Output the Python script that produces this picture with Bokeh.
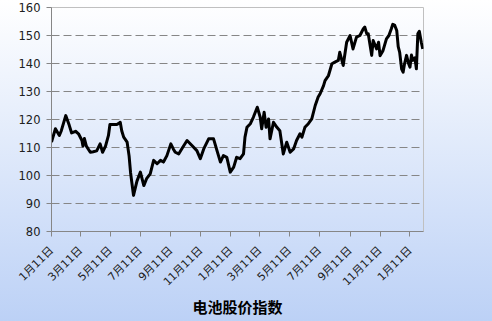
import pandas as pd
from bokeh.plotting import figure
from bokeh.models import Range1d, FixedTicker, ColumnDataSource
from bokeh.embed import file_html
from bokeh.resources import INLINE

dates = [
    "2009-01-11", "2009-01-19", "2009-01-27", "2009-01-31", "2009-02-09", "2009-02-16",
    "2009-02-21", "2009-02-25", "2009-03-01", "2009-03-07", "2009-03-14", "2009-03-16",
    "2009-03-19", "2009-03-23", "2009-03-31", "2009-04-06", "2009-04-13", "2009-04-20",
    "2009-04-25", "2009-05-01", "2009-05-07", "2009-05-10", "2009-05-17", "2009-05-24",
    "2009-05-28", "2009-05-31", "2009-06-03", "2009-06-07", "2009-06-14", "2009-06-18",
    "2009-06-21", "2009-06-27", "2009-07-04", "2009-07-11", "2009-07-18", "2009-07-24",
    "2009-07-31", "2009-08-07", "2009-08-14", "2009-08-21", "2009-08-27", "2009-09-03",
    "2009-09-11", "2009-09-16", "2009-09-20", "2009-09-27", "2009-10-05", "2009-10-14",
    "2009-10-24", "2009-11-03", "2009-11-10", "2009-11-17", "2009-11-27", "2009-12-07",
    "2009-12-14", "2009-12-21", "2009-12-27", "2010-01-03", "2010-01-10", "2010-01-17",
    "2010-01-23", "2010-01-30", "2010-02-06", "2010-02-09", "2010-02-13", "2010-02-20",
    "2010-02-26", "2010-03-06", "2010-03-12", "2010-03-15", "2010-03-20", "2010-03-24",
    "2010-03-29", "2010-04-01", "2010-04-08", "2010-04-15", "2010-04-21", "2010-04-28",
    "2010-05-05", "2010-05-12", "2010-05-19", "2010-05-25", "2010-06-01", "2010-06-05",
    "2010-06-11", "2010-06-18", "2010-06-25", "2010-07-02", "2010-07-08", "2010-07-12",
    "2010-07-19", "2010-07-22", "2010-07-29", "2010-08-05", "2010-08-11", "2010-08-18",
    "2010-08-21", "2010-08-28", "2010-09-04", "2010-09-11", "2010-09-17", "2010-09-24",
    "2010-10-01", "2010-10-08", "2010-10-11", "2010-10-15", "2010-10-18", "2010-10-25",
    "2010-10-28", "2010-11-04", "2010-11-08", "2010-11-11", "2010-11-17", "2010-11-24",
    "2010-11-29", "2010-12-04", "2010-12-07", "2010-12-11", "2010-12-15", "2010-12-18",
    "2010-12-21", "2010-12-25", "2010-12-28", "2010-12-31", "2011-01-04", "2011-01-08",
    "2011-01-11", "2011-01-14", "2011-01-17", "2011-01-21", "2011-01-24", "2011-01-27",
    "2011-01-30", "2011-02-03", "2011-02-06",
]
index_values = [
    111.9, 116.7, 114.3, 116.0, 121.4, 118.0,
    115.2, 115.5, 115.8, 114.9, 112.5, 110.5,
    113.2, 110.5, 108.3, 108.5, 108.8, 111.3,
    108.3, 110.5, 114.3, 118.2, 118.2, 118.2,
    118.6, 119.0, 116.0, 113.7, 111.9, 107.0,
    101.0, 92.9, 98.0, 101.2, 96.4, 99.0,
    100.6, 105.4, 104.2, 105.4, 104.8, 107.1,
    111.3, 109.5, 108.3, 107.7, 110.0, 112.5,
    110.7, 108.9, 106.0, 109.5, 113.1, 113.1,
    108.9, 104.8, 107.1, 106.5, 101.2, 103.0,
    106.5, 106.0, 107.7, 113.7, 117.2, 118.5,
    120.8, 124.4, 120.8, 116.7, 122.6, 117.2,
    120.2, 113.1, 119.0, 117.2, 116.0, 107.7,
    111.9, 108.3, 109.5, 112.5, 114.9, 113.7,
    117.2, 118.5, 120.2, 125.0, 128.0, 129.2,
    132.1, 133.9, 135.7, 139.9, 140.5, 141.1,
    144.0, 139.3, 147.6, 150.0, 145.2, 149.4,
    150.0, 152.4, 153.0, 150.6, 150.6, 142.9,
    148.2, 145.2, 147.6, 142.8, 144.6, 148.8,
    150.0, 152.4, 154.0, 153.6, 151.8, 146.0,
    144.0, 138.0, 136.9, 140.0, 142.9, 140.0,
    138.7, 143.0, 141.1, 142.0, 138.1, 150.6,
    151.5, 147.6, 145.2,
]
tick_dates = [
    "2009-01-11", "2009-03-11", "2009-05-11", "2009-07-11", "2009-09-11", "2009-11-11",
    "2010-01-11", "2010-03-11", "2010-05-11", "2010-07-11", "2010-09-11", "2010-11-11",
    "2011-01-11",
]
tick_labels = [
    "1月11日", "3月11日", "5月11日", "7月11日", "9月11日", "11月11日",
    "1月11日", "3月11日", "5月11日", "7月11日", "9月11日", "11月11日",
    "1月11日",
]
y_ticks = [80, 90, 100, 110, 120, 130, 140, 150, 160]
grid_ticks = [90, 100, 110, 120, 130, 140, 150]
title_text = "电池股价指数"


def to_ms(s):
    return int(pd.Timestamp(s).value // 10**6)


x_ms = [to_ms(d) for d in dates]
tick_ms = [to_ms(d) for d in tick_dates]
x_start = to_ms("2009-01-11")
x_end = to_ms("2011-02-07 12:00")

src = ColumnDataSource(data=dict(x=x_ms, y=index_values))

p = figure(width=492, height=321, output_backend="svg", toolbar_location=None,
           x_range=Range1d(x_start, x_end), y_range=Range1d(80, 160),
           min_border_left=51, min_border_right=69, min_border_top=7, min_border_bottom=90)

p.background_fill_color = None
p.border_fill_color = None
p.styles = {"background": "linear-gradient(to bottom, #FFFFFF 0%, #BCD1F6 100%)"}
p.outline_line_color = "#C0C0C0"
p.outline_line_width = 1

p.line("x", "y", source=src, line_color="black", line_width=3, line_join="round")

xa = p.xaxis[0]
xa.ticker = FixedTicker(ticks=tick_ms)
xa.major_label_overrides = {t: l for t, l in zip(tick_ms, tick_labels)}
xa.major_label_orientation = 0.785398
xa.minor_tick_line_color = None
xa.major_tick_in = 0
xa.major_tick_out = 5
xa.axis_line_color = "#868686"
xa.major_tick_line_color = "#868686"
xa.major_label_text_font = "DejaVu Sans, Noto Sans CJK SC"
xa.major_label_text_font_size = "11px"
xa.major_label_text_color = "#202020"
xa.major_label_standoff = 12
xa.axis_label = title_text
xa.axis_label_text_font = "Noto Sans CJK SC"
xa.axis_label_text_font_style = "bold"
xa.axis_label_text_font_size = "15px"
xa.axis_label_text_color = "black"
xa.axis_label_standoff = 0

ya = p.yaxis[0]
ya.ticker = FixedTicker(ticks=y_ticks)
ya.minor_tick_line_color = None
ya.major_tick_in = 0
ya.major_tick_out = 5
ya.axis_line_color = "#868686"
ya.major_tick_line_color = "#868686"
ya.major_label_text_font = "DejaVu Sans"
ya.major_label_text_font_size = "11.5px"
ya.major_label_text_color = "#202020"
ya.major_label_standoff = 6

p.xgrid.grid_line_color = None
p.ygrid.ticker = FixedTicker(ticks=grid_ticks)
p.ygrid.grid_line_color = "#868686"
p.ygrid.grid_line_dash = "8 4"
p.ygrid.grid_line_width = 1

open("out.html", "w").write(file_html(p, INLINE))
